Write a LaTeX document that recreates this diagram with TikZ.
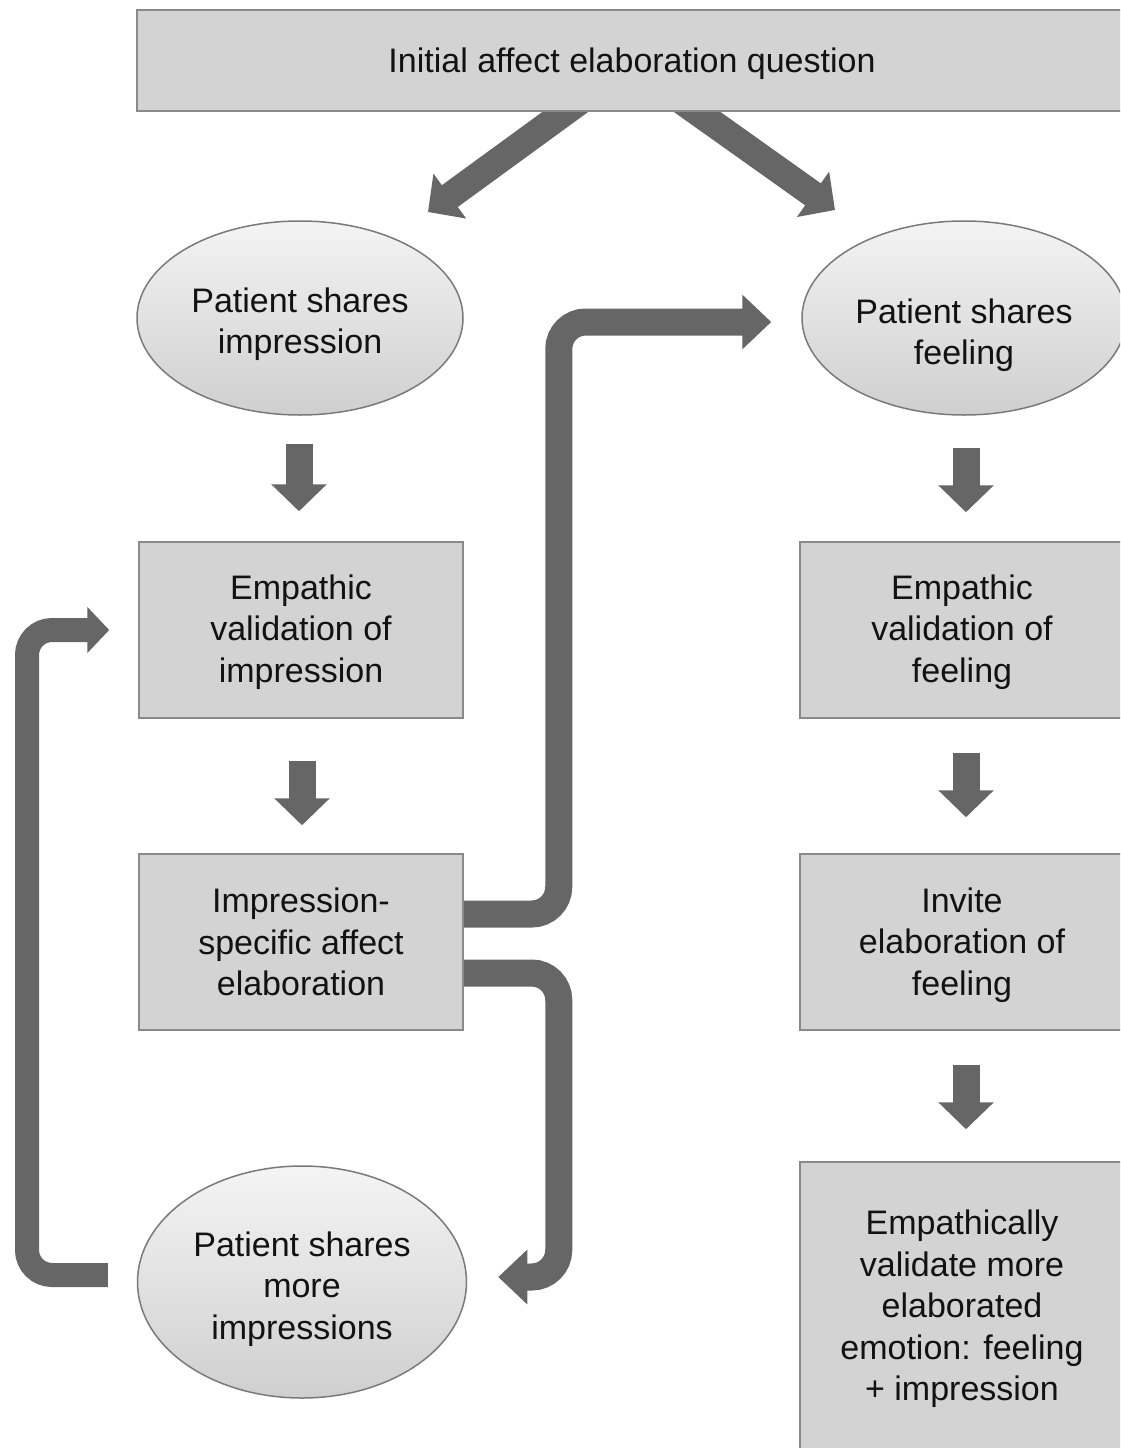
\documentclass[tikz,border=0pt]{standalone}
\usepackage{fontspec}
\setmainfont{Liberation Sans}
\usetikzlibrary{shapes.geometric,arrows.meta,calc}
\pgfdeclarelayer{bg}
\pgfsetlayers{bg,main}
\definecolor{boxfill}{HTML}{D3D3D3}
\definecolor{boxline}{HTML}{8A8A8A}
\definecolor{ovaltop}{HTML}{F4F4F4}
\definecolor{ovalbot}{HTML}{CFCFCF}
\definecolor{ovalline}{HTML}{7A7A7A}
\definecolor{arrowfill}{HTML}{666666}
\definecolor{txt}{HTML}{121212}
\begin{document}
\begin{tikzpicture}[x=1pt,y=-1pt,
  lbl/.style={align=center,inner sep=0pt,text=txt,font=\fontsize{34}{41.5}\selectfont},
  box/.style={rectangle,draw=boxline,fill=boxfill,line width=1.5pt,inner sep=0pt,
    minimum width=324pt,minimum height=176pt},
  oval/.style={ellipse,draw=ovalline,line width=1.5pt,inner sep=0pt,
    top color=ovaltop,bottom color=ovalbot},
  fatarrow/.style={draw=arrowfill,line width=27pt,line cap=butt,
    -{Triangle[length=27pt,width=54pt]}},
  elbow/.style={fatarrow,rounded corners=27pt,-{Triangle[length=29pt,width=53pt]}},
  loop/.style={draw=arrowfill,line width=24pt,line cap=butt,rounded corners=25pt,
    -{Triangle[length=22pt,width=45pt]}}
]
\useasboundingbox (0,0) rectangle (1120,1448);
\clip (0,0) rectangle (1120,1448);
\begin{pgfonlayer}{bg}
  \fill[white] (0,0) rectangle (1120,1448);
\end{pgfonlayer}

% nodes
\node[box,minimum width=990pt,minimum height=101pt,
  label={[lbl,yshift=-3pt]center:{Initial affect elaboration question}}] (top) at (632,60.5) {};
\node[oval,minimum width=326pt,minimum height=194pt,
  label={[lbl,yshift=-6pt]center:{Patient shares\\impression}}] (ps1) at (300,318) {};
\node[oval,minimum width=324pt,minimum height=194pt,
  label={[lbl,yshift=-17pt]center:{Patient shares\\feeling}}] (ps2) at (964,318) {};
\node[box,label={[lbl,yshift=-2pt]center:{Empathic\\validation of\\impression}}] (ev1) at (301,630) {};
\node[box,label={[lbl,yshift=-2pt]center:{Empathic\\validation of\\feeling}}] (ev2) at (962,630) {};
\node[box,label={[lbl]center:{Impression-\\specific affect\\elaboration}}] (ise) at (301,942) {};
\node[box,label={[lbl,yshift=-3pt]center:{Invite\\elaboration of\\feeling}}] (inv) at (962,942) {};
\node[oval,minimum width=329pt,minimum height=232pt,
  label={[lbl,yshift=-7pt]center:{Patient shares\\more\\impressions}}] (pm) at (302,1282) {};
\node[box,minimum height=296pt,
  label={[lbl,yshift=1pt]center:{Empathically\\validate more\\elaborated\\emotion: feeling\\+ impression}}] (evm) at (962,1310) {};

% connector free ends
\coordinate (dlA) at ($(top.south)+(-50,-12)$);
\coordinate (dlB) at (428,212);
\coordinate (drA) at ($(top.south)+(48,-12)$);
\coordinate (drB) at (835,210);

\begin{pgfonlayer}{bg}
  % diagonal arrows from the question
  \draw[fatarrow] (dlA) -- (dlB);
  \draw[fatarrow] (drA) -- (drB);
  % straight down arrows, left column
  \draw[fatarrow] ($(ps1.south)+(-1,28)$) -- ($(ev1.north)+(-2,-30)$);
  \draw[fatarrow] ($(ev1.south)+(1,42)$) -- ($(ise.north)+(1,-28)$);
  % straight down arrows, right column
  \draw[fatarrow] ($(ps2.south)+(2,32)$) -- ($(ev2.north)+(4,-29)$);
  \draw[fatarrow] ($(ev2.south)+(4,34)$) -- ($(inv.north)+(4,-36)$);
  \draw[fatarrow] ($(inv.south)+(4,34)$) -- ($(evm.north)+(4,-32)$);
  % elbow: elaboration -> patient shares feeling
  \draw[elbow] ($(ise.east)+(-10,-28)$) -- ++(105,0) |- ($(ps2.west)+(-30,4)$);
  % elbow: elaboration -> patient shares more impressions
  \draw[elbow] ($(ise.east)+(-10,31)$) -- ++(105,0) |- ($(pm.east)+(31,-5)$);
  % loop: more impressions -> empathic validation of impression
  \draw[loop] ($(pm.west)+(-29,-7)$) -- (27,1275) |- ($(ev1.west)+(-29,0)$);
\end{pgfonlayer}
\end{tikzpicture}
\end{document}
